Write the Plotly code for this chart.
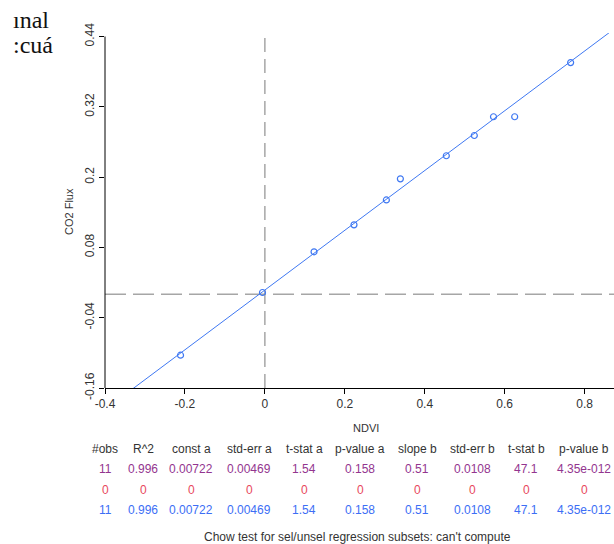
import plotly.graph_objects as go

# ---- data ----
ndvi = [-0.211, -0.006, 0.123, 0.223, 0.304, 0.339, 0.454, 0.524, 0.572, 0.625, 0.765]
co2_flux = [-0.104, 0.003, 0.0725, 0.1185, 0.161, 0.197, 0.2365, 0.271, 0.303, 0.303, 0.3955]

const_a = 0.00722
slope_b = 0.51

x_ticks = [-0.4, -0.2, 0, 0.2, 0.4, 0.6, 0.8]
x_tick_labels = ["-0.4", "-0.2", "0", "0.2", "0.4", "0.6", "0.8"]
y_ticks = [-0.16, -0.04, 0.08, 0.2, 0.32, 0.44]
y_tick_labels = ["-0.16", "-0.04", "0.08", "0.2", "0.32", "0.44"]

table_headers = ["#obs", "R^2", "const a", "std-err a", "t-stat a", "p-value a",
                 "slope b", "std-err b", "t-stat b", "p-value b"]
row_all = ["11", "0.996", "0.00722", "0.00469", "1.54", "0.158", "0.51", "0.0108", "47.1", "4.35e-012"]
row_sel = ["0", "0", "0", "0", "0", "0", "0", "0", "0", "0"]
row_unsel = ["11", "0.996", "0.00722", "0.00469", "1.54", "0.158", "0.51", "0.0108", "47.1", "4.35e-012"]
chow_text = "Chow test for sel/unsel regression subsets: can't compute"

# ---- layout geometry ----
W, H = 614, 544
L, R, T, B = 105, 0, 33, 156
PW, PH = W - L - R, H - T - B
x_range = [-0.4, 0.8735]
y_range = [-0.16, 0.446]

def px(x):
    return (x - L) / PW

def py(y):
    return (H - B - y) / PH

blue = "#3f78f2"
gray_dash = "#a6a6a6"
font_family = "Liberation Sans, Arial, sans-serif"

fig = go.Figure()

# regression line
line_x = [x_range[0], x_range[1] + 0.05]
line_y = [const_a + slope_b * v for v in line_x]
fig.add_trace(go.Scatter(x=line_x, y=line_y, mode="lines",
                         line=dict(color=blue, width=1), showlegend=False, hoverinfo="skip"))

# points
fig.add_trace(go.Scatter(x=ndvi, y=co2_flux, mode="markers",
                         marker=dict(symbol="circle-open", size=6, color=blue,
                                     line=dict(width=1.2, color=blue)),
                         showlegend=False))

shapes = [
    # dashed crosshair at origin
    dict(type="line", xref="x", yref="paper", x0=0, x1=0, y0=0, y1=1,
         line=dict(color=gray_dash, width=1.5, dash="14px,7px"), layer="below"),
    dict(type="line", xref="paper", yref="y", x0=0, x1=1, y0=0, y1=0,
         line=dict(color=gray_dash, width=1.5, dash="21px,7px"), layer="below"),
    # y axis line from first to last tick
    dict(type="line", xref="paper", yref="y", x0=0, x1=0, y0=y_ticks[0], y1=y_ticks[-1],
         line=dict(color="black", width=1)),
]

annotations = []
# background document text fragments
annotations.append(dict(text="ınal", x=px(11), y=py(20), xref="paper", yref="paper",
                        xanchor="left", yanchor="middle", showarrow=False,
                        font=dict(family="Liberation Serif, Times New Roman, serif", size=24, color="#111")))
annotations.append(dict(text=":cuá", x=px(11), y=py(45), xref="paper", yref="paper",
                        xanchor="left", yanchor="middle", showarrow=False,
                        font=dict(family="Liberation Serif, Times New Roman, serif", size=24, color="#111")))

# axis titles
annotations.append(dict(text="NDVI", x=px(366), y=py(428), xref="paper", yref="paper",
                        xanchor="center", yanchor="middle", showarrow=False,
                        font=dict(family=font_family, size=11, color="#333")))
annotations.append(dict(text="CO2 Flux", x=px(69), y=py(212), xref="paper", yref="paper",
                        xanchor="center", yanchor="middle", showarrow=False, textangle=-90,
                        font=dict(family=font_family, size=11, color="#333")))

# table
col_x = [105, 143, 191, 249, 304, 360, 417, 472, 526, 584]
rows = [(table_headers, 449, "#333333"),
        (row_all, 469, "#93358f"),
        (row_sel, 490, "#e8485c"),
        (row_unsel, 510, "#3c6ef5")]
for vals, yy, col in rows:
    for cx, v in zip(col_x, vals):
        annotations.append(dict(text=v, x=px(cx), y=py(yy), xref="paper", yref="paper",
                                xanchor="center", yanchor="middle", showarrow=False,
                                font=dict(family=font_family, size=12, color=col)))
annotations.append(dict(text=chow_text, x=px(357), y=py(537), xref="paper", yref="paper",
                        xanchor="center", yanchor="middle", showarrow=False,
                        font=dict(family=font_family, size=12, color="#333333")))

fig.update_layout(
    width=W, height=H,
    margin=dict(l=L, r=R, t=T, b=B, pad=0),
    paper_bgcolor="white", plot_bgcolor="white",
    shapes=shapes, annotations=annotations,
    xaxis=dict(range=x_range, tickvals=x_ticks, ticktext=x_tick_labels,
               showgrid=False, zeroline=False, showline=True, linecolor="black", linewidth=1,
               ticks="outside", ticklen=5, tickcolor="black", tickwidth=1,
               tickfont=dict(family=font_family, size=12, color="#333")),
    yaxis=dict(range=y_range, tickvals=y_ticks, ticktext=y_tick_labels,
               showgrid=False, zeroline=False, showline=False,
               ticks="outside", ticklen=5, tickcolor="black", tickwidth=1, tickangle=-90,
               tickfont=dict(family=font_family, size=12, color="#333")),
)

fig.write_html("out.html", config={"displayModeBar": False},
               post_script="document.body.style.margin='0';document.body.style.overflow='hidden';")
